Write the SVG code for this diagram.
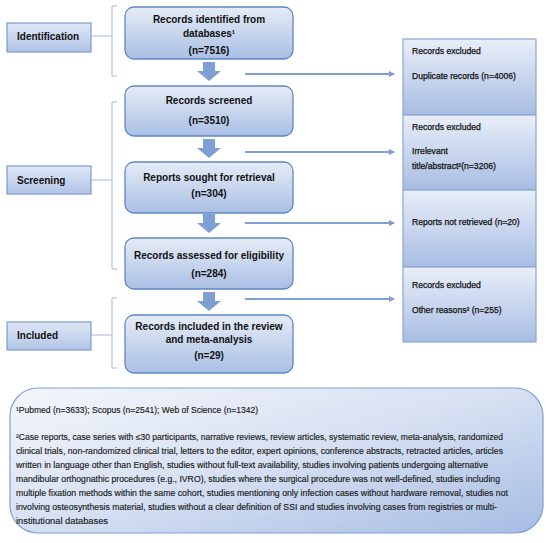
<svg xmlns="http://www.w3.org/2000/svg" width="550" height="543" viewBox="0 0 550 543">
<style>
.node{fill:url(#gMain);stroke:#5f86c4;stroke-width:1.3}
.side{fill:url(#gSide);stroke:#7d9ad0;stroke-width:1.2}
.excl{fill:url(#gExcl);stroke:#8aa6d8;stroke-width:1.2}
.t{font-family:"Liberation Sans",Arial,sans-serif;font-weight:bold;font-size:10px;fill:#111;text-anchor:middle}
.tl{font-family:"Liberation Sans",Arial,sans-serif;font-weight:bold;font-size:10px;fill:#111}
.te{font-family:"Liberation Sans",Arial,sans-serif;font-size:8.6px;fill:#111;stroke:#111;stroke-width:0.25}
.tf{font-family:"Liberation Sans",Arial,sans-serif;font-size:8.4px;fill:#1a1a1a;stroke:#1a1a1a;stroke-width:0.15}
.br{fill:none;stroke:#a9b9d8;stroke-width:1}
.hl{fill:none;stroke:#7f9fd4;stroke-width:2.2}
.dn{fill:#7f9fd4}
</style>
<defs>
<linearGradient id="gMain" x1="0" y1="0" x2="0" y2="1">
<stop offset="0" stop-color="#e6ecf7"/><stop offset="1" stop-color="#a9bfe4"/>
</linearGradient>
<linearGradient id="gSide" x1="0" y1="0" x2="0" y2="1">
<stop offset="0" stop-color="#dfe7f5"/><stop offset="1" stop-color="#b1c4e6"/>
</linearGradient>
<linearGradient id="gExcl" x1="0" y1="0" x2="0" y2="1">
<stop offset="0" stop-color="#e9eef8"/><stop offset="0.5" stop-color="#c9d6ee"/><stop offset="1" stop-color="#a7bce2"/>
</linearGradient>
<linearGradient id="gFoot" x1="0" y1="0" x2="1" y2="1">
<stop offset="0" stop-color="#f4f6fb"/><stop offset="0.5" stop-color="#d6e0f2"/><stop offset="1" stop-color="#a6bce3"/>
</linearGradient>
<marker id="ah" viewBox="0 0 6 6" refX="5" refY="3" markerWidth="3" markerHeight="3" orient="auto" markerUnits="strokeWidth">
<path d="M0,0 L6,3 L0,6 z" fill="#7f9fd4"/>
</marker>
</defs>

<g id="connectors">
<path class="br" d="M117,6 H112 V76 H117"/>
<path class="br" d="M117,102 H112 V269 H117"/>
<path class="br" d="M117,298 H112 V368 H117"/>
<line class="br" x1="91" y1="36" x2="112" y2="36"/>
<line class="br" x1="91" y1="180" x2="112" y2="180"/>
<line class="br" x1="91" y1="335" x2="112" y2="335"/>
<line class="hl" x1="245" y1="74" x2="394" y2="74" marker-end="url(#ah)"/>
<line class="hl" x1="245" y1="152" x2="394" y2="152" marker-end="url(#ah)"/>
<line class="hl" x1="245" y1="223" x2="394" y2="223" marker-end="url(#ah)"/>
<line class="hl" x1="245" y1="299" x2="394" y2="299" marker-end="url(#ah)"/>
<path class="dn" d="M203,62 H215 V71 H221 L209,81 L197,71 H203 Z"/>
<path class="dn" d="M203,139 H215 V148 H221 L209,158 L197,148 H203 Z"/>
<path class="dn" d="M203,214 H215 V223 H221 L209,233 L197,223 H203 Z" fill="#b4c7e9"/>
<path class="dn" d="M203,292 H215 V301 H221 L209,311 L197,301 H203 Z"/>
</g>

<g id="label-identification">
<rect class="side" x="7" y="23" width="84" height="29"/>
<text class="tl" x="17" y="40">Identification</text>
</g>
<g id="label-screening">
<rect class="side" x="7" y="166" width="84" height="28"/>
<text class="tl" x="17" y="184">Screening</text>
</g>
<g id="label-included">
<rect class="side" x="7" y="322" width="84" height="28"/>
<text class="tl" x="17" y="339">Included</text>
</g>

<g id="node-identified">
<rect class="node" x="125" y="7" width="168" height="52" rx="9"/>
<text class="t" x="209" y="23">Records identified from</text>
<text class="t" x="209" y="37">databases¹</text>
<text class="t" x="209" y="54">(n=7516)</text>
</g>
<g id="node-screened">
<rect class="node" x="125" y="86" width="168" height="50" rx="9"/>
<text class="t" x="209" y="104">Records screened</text>
<text class="t" x="209" y="124">(n=3510)</text>
</g>
<g id="node-sought">
<rect class="node" x="125" y="162" width="168" height="51" rx="9"/>
<text class="t" x="209" y="181">Reports sought for retrieval</text>
<text class="t" x="209" y="197">(n=304)</text>
</g>
<g id="node-assessed">
<rect class="node" x="125" y="238" width="168" height="51" rx="9"/>
<text class="t" x="209" y="259">Records assessed for eligibility</text>
<text class="t" x="209" y="277">(n=284)</text>
</g>
<g id="node-included">
<rect class="node" x="125" y="315" width="168" height="58" rx="9"/>
<text class="t" x="209" y="330">Records included in the review</text>
<text class="t" x="209" y="343">and meta-analysis</text>
<text class="t" x="209" y="359">(n=29)</text>
</g>

<g id="excl-duplicates">
<rect class="excl" x="403" y="39" width="133" height="76"/>
<text class="te" x="412" y="54">Records excluded</text>
<text class="te" x="412" y="79">Duplicate records (n=4006)</text>
</g>
<g id="excl-irrelevant">
<rect class="excl" x="403" y="115" width="133" height="75"/>
<text class="te" x="412" y="130">Records excluded</text>
<text class="te" x="412" y="154">Irrelevant</text>
<text class="te" x="412" y="169">title/abstract²(n=3206)</text>
</g>
<g id="excl-notretrieved">
<rect class="excl" x="403" y="190" width="133" height="77"/>
<text class="te" x="412" y="225">Reports not retrieved (n=20)</text>
</g>
<g id="excl-other">
<rect class="excl" x="403" y="267" width="133" height="75"/>
<text class="te" x="412" y="288">Records excluded</text>
<text class="te" x="412" y="313">Other reasons² (n=255)</text>
</g>

<g id="footnotes">
<rect x="10" y="388" width="533" height="145" rx="28" fill="url(#gFoot)" stroke="#7f9fd4" stroke-width="1.2"/>
<text class="tf" x="16" y="413" textLength="242" lengthAdjust="spacingAndGlyphs">¹Pubmed (n=3633); Scopus (n=2541); Web of Science (n=1342)</text>
<text class="tf" x="16" y="440" textLength="487" lengthAdjust="spacingAndGlyphs">²Case reports, case series with ≤30 participants, narrative reviews, review articles, systematic review, meta-analysis, randomized</text>
<text class="tf" x="16" y="454" textLength="487" lengthAdjust="spacingAndGlyphs">clinical trials, non-randomized clinical trial, letters to the editor, expert opinions, conference abstracts, retracted articles, articles</text>
<text class="tf" x="16" y="468" textLength="472" lengthAdjust="spacingAndGlyphs">written in language other than English, studies without full-text availability, studies involving patients undergoing alternative</text>
<text class="tf" x="16" y="482" textLength="484" lengthAdjust="spacingAndGlyphs">mandibular orthognathic procedures (e.g., IVRO), studies where the surgical procedure was not well-defined, studies including</text>
<text class="tf" x="16" y="496" textLength="492" lengthAdjust="spacingAndGlyphs">multiple fixation methods within the same cohort, studies mentioning only infection cases without hardware removal, studies not</text>
<text class="tf" x="16" y="510" textLength="481" lengthAdjust="spacingAndGlyphs">involving osteosynthesis material, studies without a clear definition of SSI and studies involving cases from registries or multi-</text>
<text class="tf" x="16" y="524" textLength="92" lengthAdjust="spacingAndGlyphs">institutional databases</text>
</g>
</svg>
